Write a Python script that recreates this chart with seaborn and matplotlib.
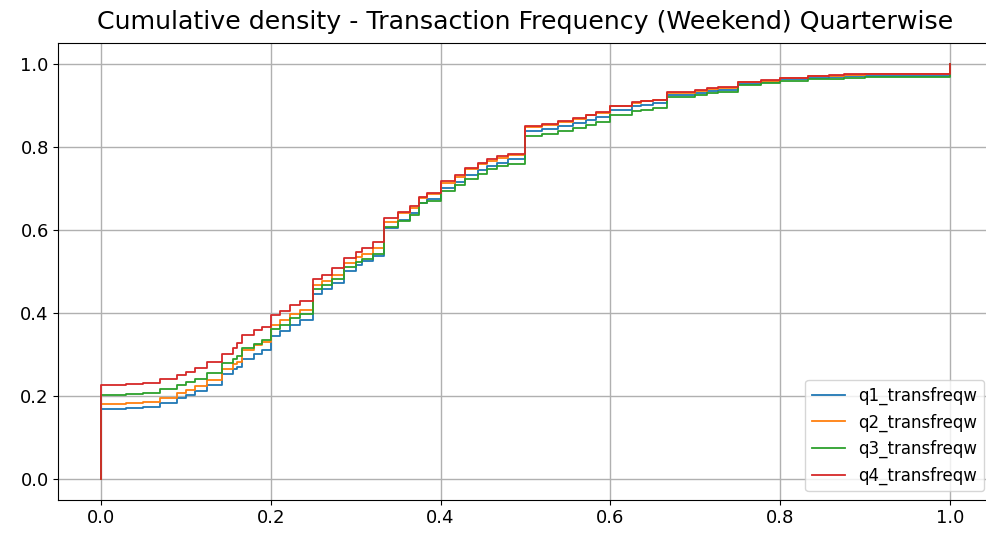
import matplotlib
matplotlib.use("Agg")
import matplotlib.pyplot as plt
import numpy as np
import pandas as pd
import seaborn as sns

# Step locations of the weekend transaction-frequency ratio (shared by all quarters)
freq_points = [
    0.0, 0.03, 0.05, 0.07, 0.09, 0.1, 0.111, 0.125, 0.1429, 0.155,
    0.16, 0.1667, 0.18, 0.19, 0.2, 0.2105, 0.2222, 0.235, 0.25, 0.26,
    0.2727, 0.2857, 0.3, 0.3077, 0.32, 0.3333, 0.35, 0.3636, 0.375, 0.3846,
    0.4, 0.4167, 0.4286, 0.4444, 0.4545, 0.4667, 0.48, 0.5, 0.52, 0.5385,
    0.5556, 0.5714, 0.5833, 0.6, 0.625, 0.6364, 0.65, 0.6667, 0.7, 0.7143,
    0.7273, 0.75, 0.7778, 0.8, 0.8333, 0.8571, 0.875, 0.9, 1.0,
]

# Cumulative share of customers at or below each step, per quarter
q1_cdf = [
    0.168, 0.170, 0.173, 0.183, 0.195, 0.202, 0.212, 0.226, 0.254, 0.264,
    0.270, 0.290, 0.302, 0.310, 0.345, 0.356, 0.372, 0.384, 0.446, 0.458,
    0.472, 0.502, 0.516, 0.525, 0.538, 0.605, 0.625, 0.640, 0.665, 0.674,
    0.702, 0.716, 0.732, 0.745, 0.754, 0.762, 0.770, 0.838, 0.844, 0.850,
    0.858, 0.866, 0.872, 0.890, 0.899, 0.902, 0.906, 0.925, 0.931, 0.935,
    0.938, 0.953, 0.957, 0.963, 0.967, 0.969, 0.971, 0.972, 1.0,
]
q2_cdf = [
    0.180, 0.182, 0.185, 0.195, 0.207, 0.214, 0.224, 0.238, 0.266, 0.277,
    0.283, 0.310, 0.322, 0.330, 0.370, 0.382, 0.398, 0.408, 0.468, 0.478,
    0.492, 0.520, 0.535, 0.543, 0.556, 0.620, 0.640, 0.654, 0.677, 0.686,
    0.714, 0.728, 0.746, 0.758, 0.766, 0.774, 0.780, 0.848, 0.854, 0.860,
    0.868, 0.876, 0.882, 0.899, 0.907, 0.910, 0.914, 0.931, 0.936, 0.940,
    0.943, 0.956, 0.960, 0.966, 0.970, 0.972, 0.974, 0.975, 1.0,
]
q3_cdf = [
    0.203, 0.205, 0.208, 0.216, 0.226, 0.233, 0.242, 0.256, 0.280, 0.290,
    0.296, 0.316, 0.326, 0.334, 0.362, 0.372, 0.388, 0.398, 0.458, 0.468,
    0.482, 0.510, 0.522, 0.530, 0.542, 0.608, 0.622, 0.636, 0.664, 0.670,
    0.694, 0.708, 0.722, 0.736, 0.746, 0.754, 0.760, 0.826, 0.832, 0.838,
    0.846, 0.854, 0.860, 0.878, 0.886, 0.889, 0.893, 0.920, 0.926, 0.930,
    0.933, 0.950, 0.954, 0.960, 0.963, 0.965, 0.967, 0.968, 1.0,
]
q4_cdf = [
    0.226, 0.228, 0.232, 0.240, 0.250, 0.258, 0.268, 0.282, 0.302, 0.315,
    0.328, 0.348, 0.360, 0.366, 0.394, 0.404, 0.420, 0.430, 0.482, 0.492,
    0.508, 0.532, 0.548, 0.556, 0.570, 0.628, 0.644, 0.658, 0.680, 0.690,
    0.718, 0.732, 0.750, 0.762, 0.770, 0.778, 0.784, 0.850, 0.856, 0.862,
    0.870, 0.878, 0.884, 0.900, 0.908, 0.911, 0.914, 0.932, 0.937, 0.941,
    0.944, 0.957, 0.961, 0.967, 0.971, 0.973, 0.975, 0.976, 1.0,
]

series_names = ["q1_transfreqw", "q2_transfreqw", "q3_transfreqw", "q4_transfreqw"]
series_values = [q1_cdf, q2_cdf, q3_cdf, q4_cdf]
colors = ["#1f77b4", "#ff7f0e", "#2ca02c", "#d62728"]

W, H = 987, 536
fig = plt.figure(figsize=(W / 100, H / 100), dpi=100)
# the plot area runs past the right edge of the canvas
x_lo, x_hi = -0.05, 1.10
unit = 849.0
ax = fig.add_axes([58.5 / W, 36.25 / H, unit * (x_hi - x_lo) / W, 456.5 / H])

for name, cdf, color in zip(series_names, series_values, colors):
    # each curve starts from zero at the first step location
    df = pd.DataFrame({"x": [freq_points[0]] + freq_points, "y": [0.0] + cdf})
    sns.lineplot(data=df, x="x", y="y", ax=ax, estimator=None, sort=False,
                 drawstyle="steps-post", color=color, linewidth=1.3, label=name)

ax.set_xlim(x_lo, x_hi)
ax.set_ylim(-0.05, 1.05)
ax.set_xticks([0.0, 0.2, 0.4, 0.6, 0.8, 1.0])
ax.set_yticks([0.0, 0.2, 0.4, 0.6, 0.8, 1.0])
ax.set_xlabel("")
ax.set_ylabel("")
ax.grid(True, color="#b0b0b0", linewidth=1.0)
ax.tick_params(labelsize=13)
ax.set_title("Cumulative density - Transaction Frequency (Weekend) Quarterwise",
             fontsize=18.2, pad=10, x=(525.5 - 58.5) / (unit * (x_hi - x_lo)))
ax.legend(loc="lower right", fontsize=12,
          bbox_to_anchor=(992.5 / W, 36.25 / H), bbox_transform=fig.transFigure)

fig.savefig("out.png", dpi=100)
